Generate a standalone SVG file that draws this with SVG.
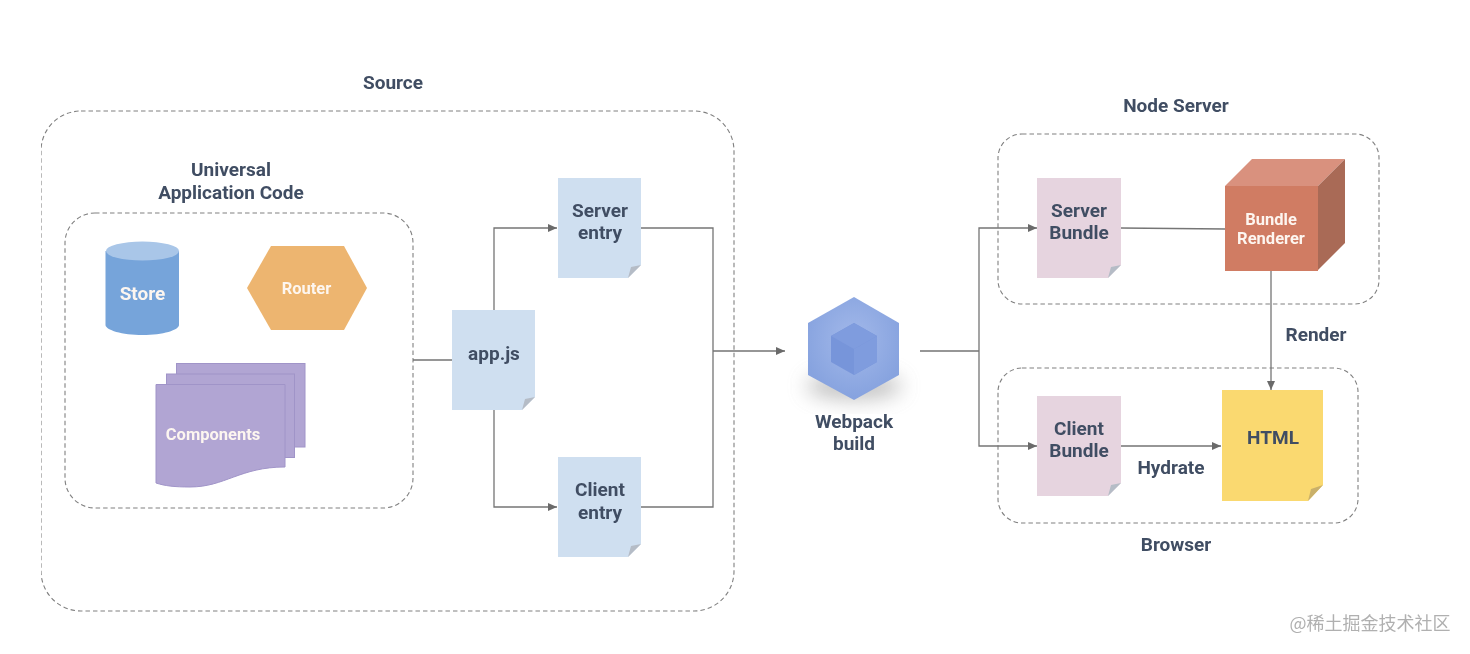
<svg xmlns="http://www.w3.org/2000/svg" width="1470" height="654" viewBox="0 0 1470 654">
<style>
text{font-family:Roboto,"Liberation Sans",sans-serif;font-weight:700;font-size:19px;fill:#414e63;text-anchor:middle}
.w{fill:#fdf6f0}
.s{font-size:16.500px}
.box{fill:none;stroke:#808080;stroke-width:1.1;stroke-dasharray:4.500 3}
.c{fill:none;stroke:#757575;stroke-width:1.3}
.a{marker-end:url(#arr)}
.blue{fill:#cfdff0}.pink{fill:#e6d4df}
.blue+path,.pink+path{fill:#b5bcc6}
</style>
<defs>
<marker id="arr" markerUnits="userSpaceOnUse" markerWidth="10" markerHeight="8" refX="9" refY="4" orient="auto"><path d="M0 0L9 4L0 8Z" fill="#6b6b6b"/></marker>
<filter id="sh" x="-30%" y="-50%" width="160%" height="200%"><feGaussianBlur stdDeviation="10"/></filter>
<filter id="soft" x="0" y="0" width="100%" height="100%"><feGaussianBlur stdDeviation="0.45"/></filter>
<radialGradient id="hex" cx="50%" cy="42%" r="55%"><stop offset="0" stop-color="#a3b9ea"/><stop offset="1" stop-color="#87a3df"/></radialGradient>
</defs>
<rect width="1470" height="654" fill="#fff"/>
<g filter="url(#soft)">
<g id="source"><rect class="box" x="41" y="111" width="693" height="500" rx="40"/><text x="393" y="89">Source</text></g>
<g id="universal"><rect class="box" x="65" y="213" width="348" height="295" rx="30"/><text x="231" y="176">Universal</text><text x="231" y="199">Application Code</text></g>
<g id="node-server"><rect class="box" x="998" y="134" width="381" height="170" rx="24"/><text x="1176" y="112">Node Server</text></g>
<g id="browser"><rect class="box" x="998" y="368" width="360" height="155" rx="24"/><text x="1176" y="551">Browser</text></g>
<g id="connectors">
<path class="c" d="M413 360H452"/>
<path class="c a" d="M494 310V228H557"/>
<path class="c a" d="M494 410V507H557"/>
<path class="c" d="M641 228H713V507H641"/>
<path class="c a" d="M713 351H785"/>
<path class="c" d="M920 351H979"/>
<path class="c a" d="M979 351V228H1037"/>
<path class="c a" d="M979 351V446H1037"/>
<path class="c" d="M1121 228L1225 229"/>
<path class="c a" d="M1121 446H1221"/>
<path class="c a" d="M1271 271V390"/>
</g>
<g id="store">
<path fill="#76a4da" d="M105.500 251V325C105.500 330 122 335 142.500 335S179 330 179 325V251Z"/>
<ellipse cx="142.500" cy="251" rx="36.500" ry="9.500" fill="#a9c6e8"/>
<text class="w" x="142.500" y="299.500">Store</text>
</g>
<g id="router"><path fill="#edb56f" d="M247 288L271 246H344L367 288L344 330H271Z"/><text class="w s" x="306.500" y="294">Router</text></g>
<g id="components">
<rect x="176.500" y="363.500" width="128.500" height="83.500" fill="#b1a5d3" stroke="#a094c8"/>
<rect x="166.500" y="374" width="128" height="83.500" fill="#b1a5d3" stroke="#a094c8"/>
<path fill="#b1a5d3" stroke="#a094c8" d="M156 384.500H285V467C240 467 225 487 190 487C175 487 165 486 156 483Z"/>
<text class="w s" x="213" y="440">Components</text>
</g>
<g id="app-js"><path class="blue" d="M452 310H535V397L522 410H452Z"/><path d="M535 397L522 410L525 399Z"/><text x="494" y="360">app.js</text></g>
<g id="server-entry"><path class="blue" d="M558 178H641V265L628 278H558Z"/><path d="M641 265L628 278L631 267Z"/><text x="600" y="217">Server</text><text x="600" y="239">entry</text></g>
<g id="client-entry"><path class="blue" d="M558 457H641V544L628 557H558Z"/><path d="M641 544L628 557L631 546Z"/><text x="600" y="496">Client</text><text x="600" y="519">entry</text></g>
<g id="webpack">
<ellipse cx="854" cy="386" rx="48" ry="14" fill="#8a8a8a" opacity=".5" filter="url(#sh)"/>
<path fill="url(#hex)" d="M854 297L899 323V375L854 400L808 375V323Z"/>
<path fill="#7795da" d="M854 323L877 336V362L854 375L831 362V336Z"/>
<path fill="#7f9cde" d="M854 349L877 336V362L854 375Z"/>
<path fill="#7f9cde" d="M854 323L877 336L854 349L831 336Z"/>
<text x="854" y="428">Webpack</text><text x="854" y="450">build</text>
</g>
<g id="server-bundle"><path class="pink" d="M1037 178H1121V265L1108 278H1037Z"/><path d="M1121 265L1108 278L1111 267Z"/><text x="1079" y="217">Server</text><text x="1079" y="239">Bundle</text></g>
<g id="client-bundle"><path class="pink" d="M1037 396H1121V483L1108 496H1037Z"/><path d="M1121 483L1108 496L1111 485Z"/><text x="1079" y="435">Client</text><text x="1079" y="457">Bundle</text></g>
<g id="bundle-renderer">
<path fill="#d9917e" d="M1225 186L1252 159H1345L1318 186Z"/>
<path fill="#a96a57" d="M1318 186L1345 159V243L1318 270Z"/>
<rect x="1225" y="186" width="93" height="85" fill="#d07c64"/>
<text class="w s" x="1271" y="225">Bundle</text><text class="w s" x="1271" y="244">Renderer</text>
</g>
<g id="html"><path fill="#fad96f" d="M1222 390H1323V485L1308 501H1222Z"/><path fill="#c9b06a" d="M1323 485L1308 501L1311 489Z"/><text x="1273" y="444">HTML</text></g>
<text x="1316" y="341">Render</text>
<text x="1171" y="474">Hydrate</text>
<text x="1370" y="630" style="font-family:'Noto Sans CJK SC',sans-serif;font-weight:400;font-size:18px;fill:#b0b0b0">@稀土掘金技术社区</text>
</g>
</svg>
